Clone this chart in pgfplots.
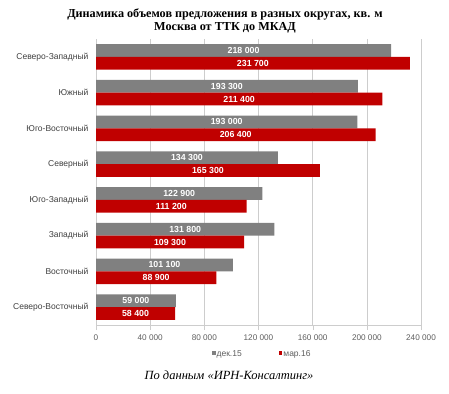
\documentclass[border=0pt]{standalone}
\usepackage{pgfplots}
\pgfplotsset{compat=1.18}
\usepackage{fontspec}
\setmainfont{Liberation Serif}
\setsansfont{Liberation Sans}
\definecolor{barGray}{RGB}{128,128,128}
\definecolor{barRed}{RGB}{192,0,0}
\definecolor{gridGray}{RGB}{205,205,205}
\definecolor{labDark}{RGB}{64,64,64}
\definecolor{labMid}{RGB}{95,95,95}
\pgfplotsset{legsq/.style={legend image code/.code={\fill[##1,draw=none] (0pt,-1.2pt) rectangle (3.6pt,2.4pt);}}}
\begin{document}
\begin{tikzpicture}
\path[use as bounding box] (0,0) rectangle (449pt,393pt);
\begin{axis}[
  at={(96pt,68pt)}, anchor=south west,
  scale only axis, width=325pt, height=286pt,
  xmin=0, xmax=240000, ymin=-0.5, ymax=7.5,
  bar width=0.36,
  ytick={0,...,7},
  yticklabels={Северо-Восточный,Восточный,Западный,Юго-Западный,Северный,Юго-Восточный,Южный,Северо-Западный},
  xtick={0,40000,...,240000},
  scaled x ticks=false,
  /pgf/number format/.cd, fixed, 1000 sep={\ }, assume math mode=true, /pgfplots/.cd,
  axis lines*=left,
  axis line style={gridGray},
  xmajorgrids, grid style={gridGray},
  xtick align=outside, major tick length=5pt,
  xtick style={gridGray},
  ytick style={draw=none},
  x tick label style={font=\sffamily\fontsize{8.2}{9}\selectfont, text=labMid, yshift=-1pt},
  y tick label style={font=\sffamily\fontsize{8.5}{10}\selectfont, text=labDark, xshift=-4pt},
  legend style={at={(0.51,-0.101)}, anchor=center, legend columns=2, draw=none, fill=none,
    font=\sffamily\fontsize{8.5}{9}\selectfont, text=labMid,
    nodes={inner xsep=1pt},
    /tikz/every even column/.append style={column sep=36pt},
    legend cell align=left},
]
\addplot[xbar, bar shift=0.18, fill=barGray, draw=none, legsq] coordinates {
  (59000,0) (101100,1) (131800,2) (122900,3) (134300,4) (193000,5) (193300,6) (218000,7)};
\addlegendentry{дек.15}
\addplot[xbar, bar shift=-0.18, fill=barRed, draw=none, legsq] coordinates {
  (58400,0) (88900,1) (109300,2) (111200,3) (165300,4) (206400,5) (211400,6) (231700,7)};
\addlegendentry{мар.16}
\addplot[forget plot, only marks, mark=none, point meta=explicit,
  nodes near coords,
  every node near coord/.append style={anchor=center, text=white, font=\sffamily\bfseries\fontsize{8.8}{10}\selectfont}]
  coordinates {
  (29500,0.18) [59000] (50550,1.18) [101100] (65900,2.18) [131800] (61450,3.18) [122900]
  (67150,4.18) [134300] (96500,5.18) [193000] (96650,6.18) [193300] (109000,7.18) [218000]};
\addplot[forget plot, only marks, mark=none, point meta=explicit,
  nodes near coords,
  every node near coord/.append style={anchor=center, text=white, font=\sffamily\bfseries\fontsize{8.8}{10}\selectfont}]
  coordinates {
  (29200,-0.18) [58400] (44450,0.82) [88900] (54650,1.82) [109300] (55600,2.82) [111200]
  (82650,3.82) [165300] (103200,4.82) [206400] (105700,5.82) [211400] (115850,6.82) [231700]};
\end{axis}
\node[font=\bfseries\fontsize{12.2}{14}\selectfont] at (225pt,379pt) {Динамика объемов предложения в разных округах, кв. м};
\node[font=\bfseries\fontsize{12.2}{14}\selectfont] at (225pt,365.5pt) {Москва от ТТК до МКАД};
\node[font=\itshape\fontsize{12.5}{14}\selectfont] at (229pt,18pt) {По данным «ИРН-Консалтинг»};
\end{tikzpicture}
\end{document}
